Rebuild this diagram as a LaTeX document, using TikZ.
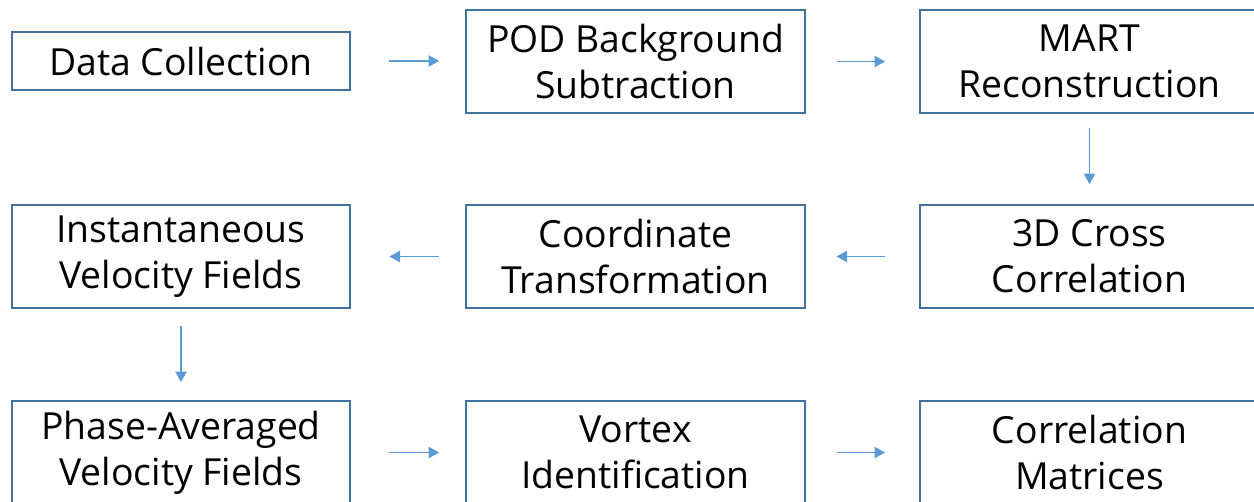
\documentclass[tikz,border=0pt]{standalone}
\usepackage{fontspec}
\setmainfont{Open Sans}
\usetikzlibrary{arrows.meta}
\definecolor{boxline}{HTML}{41719C}
\definecolor{arrowblue}{HTML}{5B9BD5}
\begin{document}
\begin{tikzpicture}[x=0.75pt,y=-0.75pt,
  stage/.style={draw=boxline,line width=1.5pt,minimum width=254pt,minimum height=77pt,
    inner sep=0pt,align=center,font=\fontsize{28}{34.5}\selectfont},
  flow/.style={draw=arrowblue,line width=1pt,-{Triangle[length=8pt,width=8.5pt]}}]
\useasboundingbox (0,0) rectangle (1254,501);
\begin{scope}
\clip (0,0) rectangle (1254,501);
% first row
\node[stage,minimum height=43.5pt] (dc) at (181,61) {Data Collection};
\node[stage] (pod) at (635.5,61.5) {POD Background\\Subtraction};
\node[stage] (mart) at (1089.5,61.5) {MART\\Reconstruction};
% second row
\node[stage] (inst) at (181,256.5) {Instantaneous\\Velocity Fields};
\node[stage] (coord) at (635.5,256.5) {Coordinate\\Transformation};
\node[stage] (xcorr) at (1089.5,256.5) {3D Cross\\Correlation};
% third row
\node[stage] (phase) at (181,452.5) {Phase-Averaged\\Velocity Fields};
\node[stage] (vortex) at (635.5,452.5) {Vortex\\Identification};
\node[stage] (cmat) at (1089.5,452.5) {Correlation\\Matrices};
\end{scope}
% connectors
\draw[flow,shorten <=28.5pt,shorten >=19.5pt] (dc.east) -- (dc.east -| pod.west);
\draw[flow,shorten <=23pt,shorten >=25.5pt] (pod.east) -- (mart.west);
\draw[flow,shorten <=10.5pt,shorten >=15pt] (mart.south) -- (xcorr.north);
\draw[flow,shorten <=25.5pt,shorten >=23pt] (xcorr.west) -- (coord.east);
\draw[flow,shorten <=19.5pt,shorten >=28.5pt] (coord.west) -- (inst.east);
\draw[flow,shorten <=12.75pt,shorten >=13.5pt] (inst.south) -- (phase.north);
\draw[flow,shorten <=28.5pt,shorten >=19.5pt] (phase.east) -- (vortex.west);
\draw[flow,shorten <=23pt,shorten >=25.5pt] (vortex.east) -- (cmat.west);
\end{tikzpicture}
\end{document}
